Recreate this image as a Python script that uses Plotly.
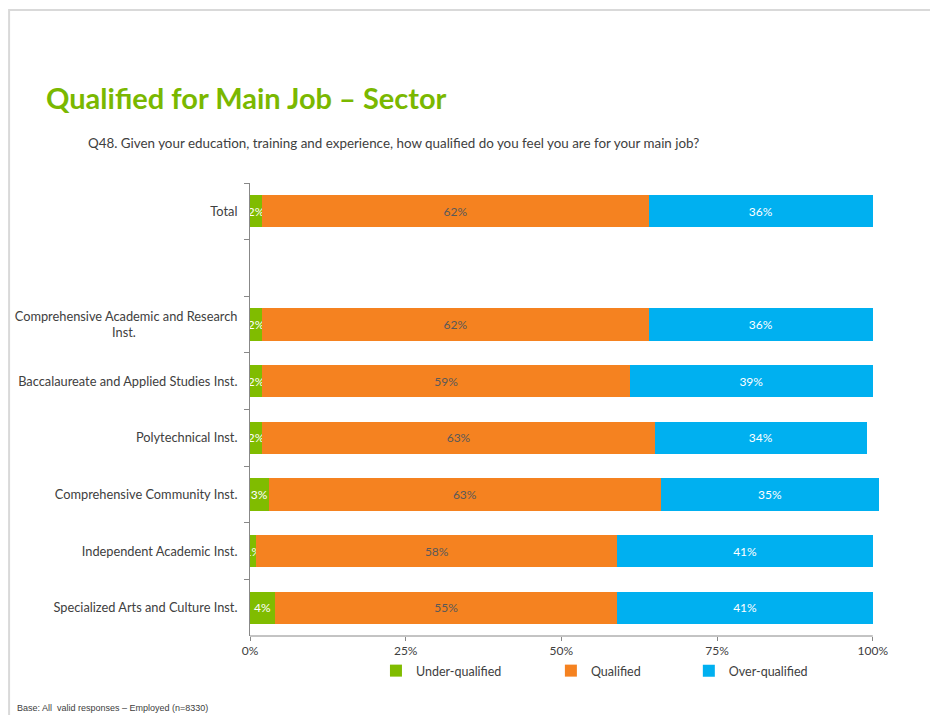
import plotly.graph_objects as go

categories = [
    "Total",
    " ",
    "Comprehensive Academic and Research<br>Inst." + "\u00a0" * 31,
    "Baccalaureate and Applied Studies Inst.",
    "Polytechnical Inst.",
    "Comprehensive Community Inst.",
    "Independent Academic Inst.",
    "Specialized Arts and Culture Inst.",
]
under_qualified = [2, None, 2, 2, 2, 3, 1, 4]
qualified = [62, None, 62, 59, 63, 63, 58, 55]
over_qualified = [36, None, 36, 39, 34, 35, 41, 41]
x_ticks = [0, 25, 50, 75, 100]
x_tick_labels = ["0%", "25%", "50%", "75%", "100%"]

OFF = 8  # page body margin
W, H = 930, 707
XMAX = 101
L, T, B = 250 - OFF, 183 - OFF, 79
pw = 623 * XMAX / 100
R = W - L - pw
ph = H - T - B


def px(sx):
    return (sx - OFF - L) / pw


def py(sy):
    return 1 - (sy - OFF - T) / ph


FONT = "Lato, 'Open Sans', sans-serif"
TXT = "#404040"
series = [
    ("Under-qualified", under_qualified, "#80BC00", "white", "legend", 376),
    ("Qualified", qualified, "#F58220", "#595959", "legend2", 551),
    ("Over-qualified", over_qualified, "#00B0F0", "white", "legend3", 689),
]

fig = go.Figure()
legends = {}
for name, vals, color, tcol, leg, lx in series:
    fig.add_trace(go.Bar(
        y=categories, x=vals, name=name, orientation="h",
        marker=dict(color=color, line=dict(width=0)),
        text=[f"{v}%" if v is not None else "" for v in vals],
        textposition="inside", insidetextanchor="middle", textangle=0,
        constraintext="none",
        textfont=dict(color=tcol, size=12, family=FONT),
        width=0.57, cliponaxis=False, legend=leg,
        hoverinfo="skip",
    ))
    legends[leg] = dict(
        orientation="h", x=px(lx), y=py(656), xanchor="left", yanchor="top",
        font=dict(size=12.5, color=TXT, family=FONT), bgcolor="rgba(0,0,0,0)",
    )

fig.update_layout(
    barmode="stack",
    width=W, height=H,
    margin=dict(l=L, r=R, t=T, b=B, pad=0, autoexpand=False),
    paper_bgcolor="white", plot_bgcolor="white",
    font=dict(family=FONT, size=12, color=TXT),
    showlegend=True,
    xaxis=dict(
        range=[0, XMAX], tickvals=x_ticks, ticktext=x_tick_labels,
        showgrid=False, zeroline=False, showline=False, automargin=False,
        ticks="outside", ticklen=4, tickcolor="#888888",
        tickfont=dict(size=12, color=TXT), fixedrange=True,
    ),
    yaxis=dict(
        autorange="reversed", showgrid=False, zeroline=False, showline=True,
        automargin=False,
        linecolor="#888888", linewidth=1, ticks="outside", ticklen=5,
        tickcolor="#888888", tickson="boundaries", ticklabelstandoff=9,
        tickfont=dict(size=12.8, color=TXT),
    ),
    shapes=[
        dict(type="line", xref="x", yref="paper", x0=0, x1=100, y0=0, y1=0,
             line=dict(color="#888888", width=1)),
        dict(type="rect", xref="paper", yref="paper",
             x0=px(9), x1=px(950), y0=py(10), y1=py(740),
             line=dict(color="#d9d9d9", width=2), fillcolor="rgba(0,0,0,0)", layer="below"),
    ],
    annotations=[
        dict(text="<b>Qualified for Main Job – Sector</b>", xref="paper", yref="paper",
             x=px(44), y=py(98), xanchor="left", yanchor="middle", showarrow=False,
             font=dict(size=29, color="#7AB800", family=FONT)),
        dict(text="Q48. Given your education, training and experience, how qualified do you feel you are for your main job?",
             xref="paper", yref="paper", x=px(86), y=py(143), xanchor="left", yanchor="middle",
             showarrow=False, font=dict(size=13.4, color=TXT, family=FONT)),
        dict(text="Base: All  valid responses – Employed (n=8330)", xref="paper", yref="paper",
             x=px(15), y=py(708), xanchor="left", yanchor="middle", showarrow=False,
             font=dict(size=9, color=TXT, family="Liberation Sans, Arial, sans-serif")),
    ],
    **legends,
)

fig.write_html("out.html")
